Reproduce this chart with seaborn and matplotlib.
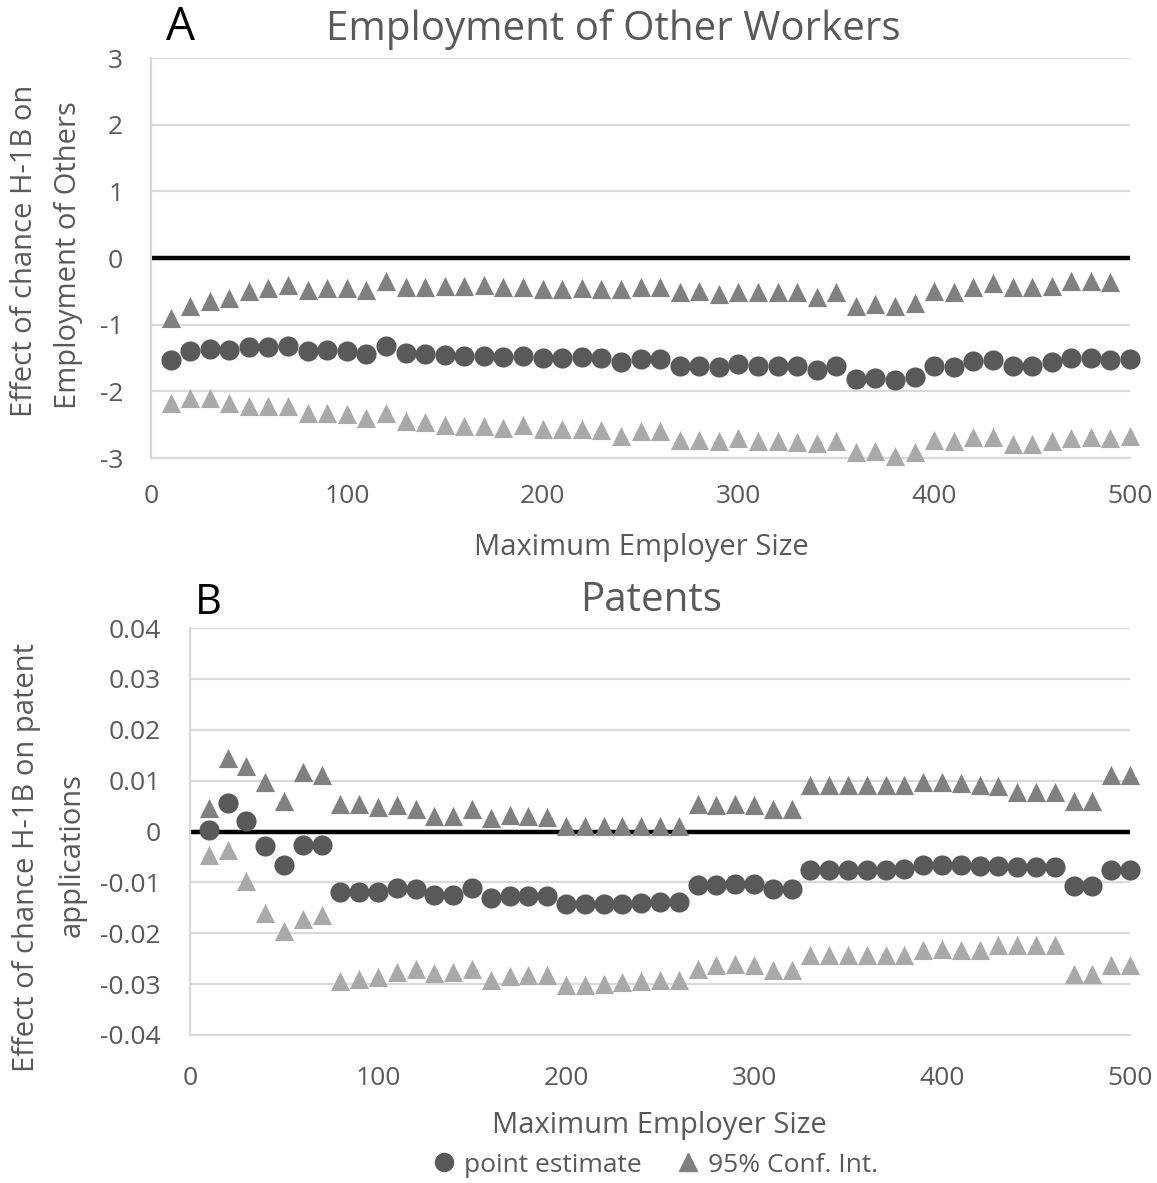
import numpy as np
import pandas as pd
import matplotlib
matplotlib.use("Agg")
import matplotlib.pyplot as plt
import seaborn as sns
from matplotlib.lines import Line2D

# Maximum employer size thresholds (x axis of both panels)
sizes = list(range(10, 510, 10))

# Panel A: employment of other workers
emp_est = [-1.53, -1.40, -1.37, -1.375, -1.34, -1.34, -1.32, -1.40, -1.375, -1.39,
           -1.435, -1.32, -1.425, -1.435, -1.45, -1.465, -1.465, -1.485, -1.475, -1.50,
           -1.50, -1.485, -1.50, -1.56, -1.51, -1.51, -1.615, -1.615, -1.635, -1.585,
           -1.615, -1.625, -1.625, -1.675, -1.625, -1.815, -1.80, -1.835, -1.785, -1.615,
           -1.635, -1.54, -1.535, -1.625, -1.625, -1.565, -1.50, -1.50, -1.525, -1.515]
emp_hi = [-0.90, -0.725, -0.65, -0.60, -0.50, -0.45, -0.40, -0.475, -0.45, -0.45,
          -0.475, -0.35, -0.44, -0.44, -0.425, -0.425, -0.405, -0.43, -0.44, -0.46,
          -0.46, -0.45, -0.46, -0.465, -0.44, -0.44, -0.515, -0.50, -0.54, -0.51,
          -0.515, -0.515, -0.515, -0.585, -0.515, -0.725, -0.69, -0.725, -0.675, -0.49,
          -0.515, -0.44, -0.375, -0.44, -0.44, -0.415, -0.34, -0.35, -0.355, np.nan]
emp_lo = [-2.175, -2.10, -2.10, -2.175, -2.225, -2.225, -2.225, -2.325, -2.325, -2.34,
          -2.40, -2.32, -2.44, -2.455, -2.50, -2.52, -2.52, -2.55, -2.50, -2.56,
          -2.56, -2.56, -2.585, -2.665, -2.60, -2.60, -2.735, -2.735, -2.74, -2.70,
          -2.75, -2.75, -2.76, -2.775, -2.74, -2.915, -2.90, -2.975, -2.915, -2.725,
          -2.74, -2.69, -2.69, -2.79, -2.79, -2.74, -2.70, -2.69, -2.70, -2.665]

# Panel B: patent applications
pat_est = [0.0003, 0.0057, 0.0020, -0.0029, -0.0065, -0.0026, -0.0026, -0.0119, -0.0118, -0.0118,
           -0.0111, -0.0113, -0.0124, -0.0124, -0.0111, -0.0131, -0.0126, -0.0126, -0.0126, -0.0142,
           -0.0142, -0.0142, -0.0142, -0.0141, -0.0139, -0.0139, -0.0105, -0.0105, -0.0103, -0.0103,
           -0.0113, -0.0113, -0.0075, -0.0075, -0.0075, -0.0075, -0.0075, -0.0074, -0.0065, -0.0065,
           -0.0065, -0.0067, -0.0067, -0.0070, -0.0070, -0.0070, -0.0108, -0.0108, -0.0075, -0.0075]
pat_hi = [0.0046, 0.0144, 0.0129, 0.0098, 0.0060, 0.0116, 0.0111, 0.0054, 0.0054, 0.0049,
          0.0052, 0.0044, 0.0031, 0.0031, 0.0044, 0.0027, 0.0032, 0.0030, 0.0028, 0.0011,
          0.0011, 0.0011, 0.0010, 0.0011, 0.0011, 0.0011, 0.0054, 0.0052, 0.0054, 0.0053,
          0.0045, 0.0045, 0.0092, 0.0092, 0.0092, 0.0092, 0.0092, 0.0092, 0.0098, 0.0098,
          0.0096, 0.0092, 0.0090, 0.0078, 0.0078, 0.0078, 0.0060, 0.0060, 0.0111, 0.0111]
pat_lo = [-0.0046, -0.0036, -0.0098, -0.0161, -0.0196, -0.0172, -0.0164, -0.0294, -0.0290, -0.0286,
          -0.0276, -0.0271, -0.0278, -0.0276, -0.0271, -0.0291, -0.0284, -0.0283, -0.0283, -0.0301,
          -0.0301, -0.0299, -0.0296, -0.0294, -0.0292, -0.0292, -0.0270, -0.0263, -0.0261, -0.0262,
          -0.0273, -0.0273, -0.0242, -0.0242, -0.0242, -0.0242, -0.0242, -0.0242, -0.0233, -0.0231,
          -0.0232, -0.0233, -0.0224, -0.0224, -0.0224, -0.0224, -0.0281, -0.0281, -0.0263, -0.0263]

x_ticks = [0, 100, 200, 300, 400, 500]
x_tick_labels = ["0", "100", "200", "300", "400", "500"]
emp_yticks = [-3, -2, -1, 0, 1, 2, 3]
emp_ytick_labels = ["-3", "-2", "-1", "0", "1", "2", "3"]
pat_yticks = [-0.04, -0.03, -0.02, -0.01, 0, 0.01, 0.02, 0.03, 0.04]
pat_ytick_labels = ["-0.04", "-0.03", "-0.02", "-0.01", "0", "0.01", "0.02", "0.03", "0.04"]

EST_C = "#595959"
HI_C = "#808080"
LO_C = "#a9a9a9"
GRID_C = "#d9d9d9"
TEXT_C = "#595959"

sns.set_theme(style="white")
plt.rcParams["font.family"] = ["Open Sans", "DejaVu Sans"]

W, H = 1157, 1183
fig = plt.figure(figsize=(W / 100, H / 100), dpi=100)
axA = fig.add_axes([151 / W, 1 - 458 / H, 979 / W, 400 / H])
axB = fig.add_axes([190 / W, 1 - 1035 / H, 940 / W, 407 / H])


def draw_panel(ax, est, hi, lo, yticks, ylabels, ylim, xpad, ypad):
    df = pd.DataFrame({"size": sizes, "est": est, "hi": hi, "lo": lo})
    for col, marker, color, s in [("lo", "^", LO_C, 190),
                                  ("hi", "^", HI_C, 190),
                                  ("est", "o", EST_C, 210)]:
        sns.scatterplot(data=df, x="size", y=col, marker=marker, color=color,
                        s=s, linewidth=0, ax=ax, zorder=3, legend=False,
                        clip_on=False)
    ax.axhline(0, color="black", lw=3.2, zorder=2)
    ax.set_xlim(0, 500)
    ax.set_ylim(*ylim)
    ax.set_xticks(x_ticks)
    ax.set_xticklabels(x_tick_labels)
    ax.set_yticks(yticks)
    ax.set_yticklabels(ylabels)
    ax.grid(axis="y", color=GRID_C, lw=1.6, zorder=0)
    ax.grid(axis="x", visible=False)
    ax.set_axisbelow(True)
    for side in ("top", "right"):
        ax.spines[side].set_visible(False)
    for side in ("left", "bottom"):
        ax.spines[side].set_color(GRID_C)
        ax.spines[side].set_linewidth(1.6)
    ax.tick_params(axis="both", length=0, labelsize=19, labelcolor=TEXT_C)
    ax.tick_params(axis="x", pad=xpad)
    ax.tick_params(axis="y", pad=ypad)
    ax.set_xlabel("")
    ax.set_ylabel("")


draw_panel(axA, emp_est, emp_hi, emp_lo, emp_yticks, emp_ytick_labels, (-3, 3), 19, 20)
draw_panel(axB, pat_est, pat_hi, pat_lo, pat_yticks, pat_ytick_labels, (-0.04, 0.04), 22, 21)


def ftext(x, y, s, **kw):
    fig.text(x / W, 1 - y / H, s, ha="center", va="center", **kw)


# Panel headings
ftext(180, 28, "A", size=33, color="black")
ftext(613, 29, "Employment of Other Workers", size=29, color=TEXT_C)
ftext(208, 603, "B", size=30, color="black")
ftext(651, 601, "Patents", size=29, color=TEXT_C)

# Axis titles
ftext(641, 548, "Maximum Employer Size", size=21, color=TEXT_C)
ftext(659, 1126, "Maximum Employer Size", size=21, color=TEXT_C)
ftext(25, 251, "Effect of chance H-1B on", size=21, color=TEXT_C, rotation=90)
ftext(69, 255, "Employment of Others", size=21, color=TEXT_C, rotation=90)
ftext(27, 857, "Effect of chance H-1B on patent", size=21, color=TEXT_C, rotation=90)
ftext(72, 855, "applications", size=21, color=TEXT_C, rotation=90)

handles = [Line2D([], [], marker="o", ls="", color=EST_C, markersize=13),
           Line2D([], [], marker="^", ls="", color=HI_C, markersize=13)]
fig.legend(handles, ["point estimate", "95% Conf. Int."], loc="center",
           bbox_to_anchor=(655 / W, 1 - 1165 / H), ncol=2, frameon=False,
           fontsize=19, labelcolor=TEXT_C, handletextpad=0.3, columnspacing=1.3,
           handlelength=0.9)

fig.savefig("out.png", dpi=100, facecolor="white")
